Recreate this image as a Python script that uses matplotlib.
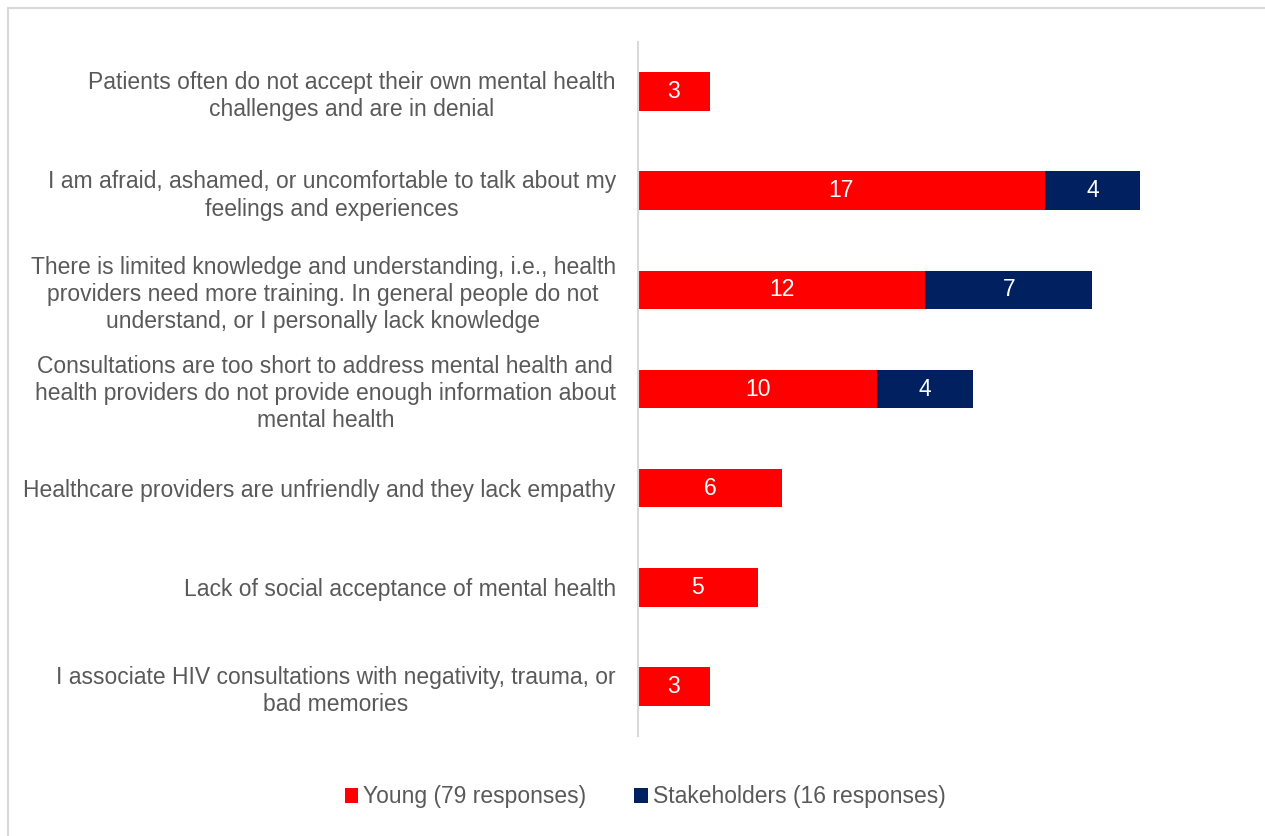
import numpy as np
import matplotlib.pyplot as plt
from matplotlib.patches import Rectangle

# Barriers to talking about mental health, by respondent group
barriers = [
    "Patients often do not accept their own mental health\nchallenges and are in denial",
    "I am afraid, ashamed, or uncomfortable to talk about my\nfeelings and experiences",
    "There is limited knowledge and understanding, i.e., health\nproviders need more training. In general people do not\nunderstand, or I personally lack knowledge",
    "Consultations are too short to address mental health and\nhealth providers do not provide enough information about\nmental health",
    "Healthcare providers are unfriendly and they lack empathy",
    "Lack of social acceptance of mental health",
    "I associate HIV consultations with negativity, trauma, or\nbad memories",
]
young = [3, 17, 12, 10, 6, 5, 3]
stakeholders = [0, 4, 7, 4, 0, 0, 0]

young_label = "Young (79 responses)"
stake_label = "Stakeholders (16 responses)"

RED = "#FF0000"
NAVY = "#002060"
GREY = "#595959"

plt.rcParams["font.family"] = ["Liberation Sans", "DejaVu Sans"]

fig = plt.figure(figsize=(12.65, 8.36), dpi=100)
ax = fig.add_axes([638 / 1265, 100 / 836, 598 / 1265, 694 / 836])

y = np.arange(len(barriers))
h = 0.39
b1 = ax.barh(y, young, height=h, color=RED, label=young_label)
b2 = ax.barh(y, stakeholders, height=h, left=young, color=NAVY, label=stake_label)

# value labels inside the segments, skip empty ones
for bars, vals, starts in [(b1, young, [0] * len(young)), (b2, stakeholders, young)]:
    for bar, v, s in zip(bars, vals, starts):
        if v > 0:
            ax.text(s + v / 2, bar.get_y() + bar.get_height() / 2, str(v),
                    ha="center", va="center", color="white", fontsize=16.5)

ax.set_ylim(len(barriers) - 0.5, -0.5)
ax.set_xlim(0, 25)
ax.set_xticks([])
ax.set_yticks(y)
ax.set_yticklabels(barriers, fontsize=16.5, color=GREY, multialignment="center",
                   linespacing=1.24)
ax.tick_params(axis="y", length=0, pad=16)
for side in ["top", "right", "bottom"]:
    ax.spines[side].set_visible(False)
ax.spines["left"].set_color("#D9D9D9")
ax.spines["left"].set_linewidth(1.5)

leg = fig.legend(handles=[b1, b2], loc="center", bbox_to_anchor=(645 / 1265, 1 - 797 / 836),
                 ncol=2, frameon=False, fontsize=16.5, handlelength=0.6, handleheight=0.6,
                 handletextpad=0.2, columnspacing=2.1)
for t in leg.get_texts():
    t.set_color(GREY)

# light frame around the chart area
fig.patches.append(Rectangle((8 / 1265, -0.1), 1.2, (836 - 8) / 836 + 0.1,
                             transform=fig.transFigure, fill=False,
                             edgecolor="#D9D9D9", linewidth=1.5))

fig.savefig("out.png", dpi=100)
